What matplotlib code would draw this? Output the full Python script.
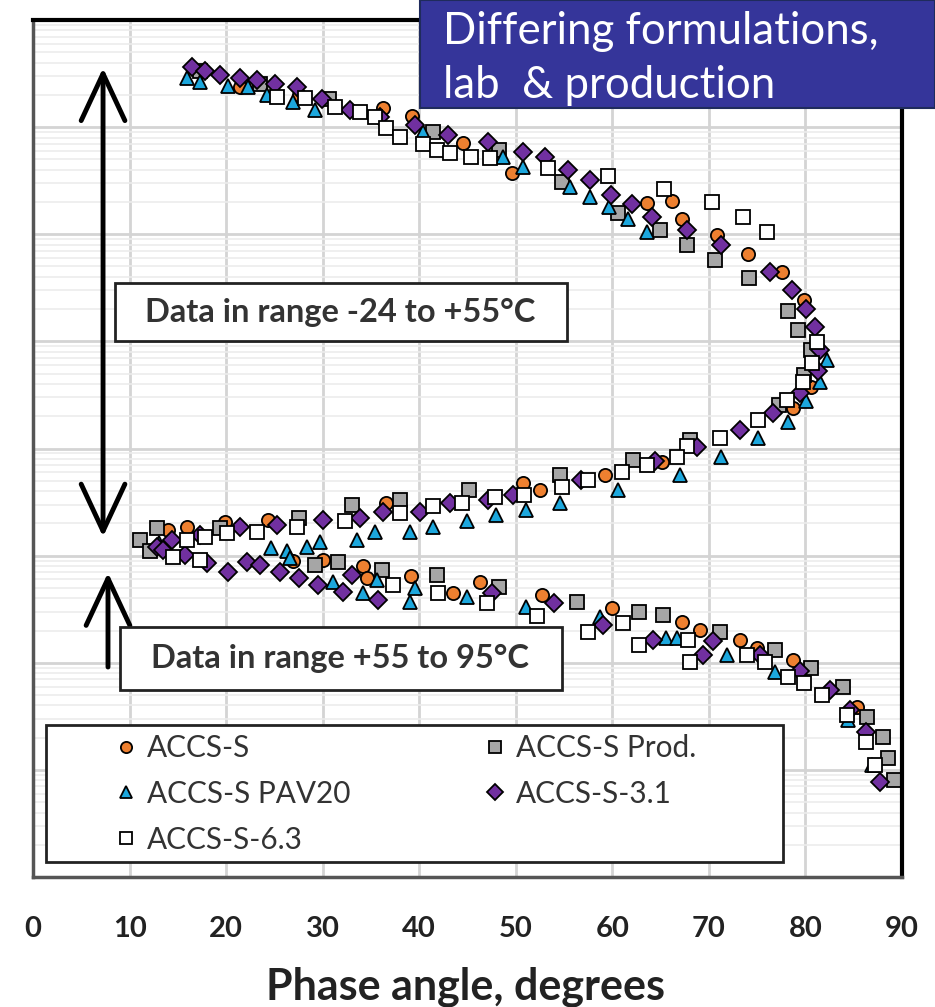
import numpy as np
import matplotlib.pyplot as plt
from matplotlib.patches import Rectangle
from matplotlib.lines import Line2D

plt.rcParams['font.family'] = ['Lato', 'DejaVu Sans']

# Black-space data: phase angle [deg] and log10 |G*|
# branch measured from -24 to +55 C
accs_s_phase = [21.4, 27.6, 36.2, 39.3, 44.5, 49.6, 63.6, 66.2, 67.2, 70.8, 74.0, 77.6,
                79.9, 80.6, 78.7, 65.1, 59.2, 52.5, 50.7, 36.6, 24.3, 19.9, 16.0, 14.0]
accs_s_logg = [8.37, 8.30, 8.18, 8.10, 7.85, 7.57, 7.29, 7.31, 7.14, 6.99, 6.82, 6.65,
               6.39, 5.57, 5.38, 4.87, 4.75, 4.61, 4.68, 4.49, 4.33, 4.31, 4.27, 4.24]
# branch measured from +55 to 95 C
accs_s_hot_phase = [26.9, 30.0, 34.2, 34.6, 39.2, 43.5, 46.3, 52.7, 60.0, 67.2, 69.1, 73.2,
                    75.0, 78.7, 85.3]
accs_s_hot_logg = [3.95, 3.96, 3.90, 3.79, 3.81, 3.65, 3.75, 3.63, 3.51, 3.38, 3.31, 3.21,
                   3.14, 3.03, 2.59]

prod_phase = [17.3, 23.5, 30.7, 41.4, 48.3, 54.8, 60.6, 64.9, 67.7, 70.6, 74.2, 78.2, 79.2,
              80.6, 79.9, 77.3, 68.0, 62.1, 54.6, 45.2, 38.0, 33.0, 27.6, 19.4, 12.8, 11.1]
prod_logg = [8.52, 8.40, 8.26, 7.95, 7.79, 7.49, 7.20, 7.04, 6.90, 6.76, 6.59, 6.28, 6.11,
             5.92, 5.69, 5.41, 5.08, 4.89, 4.75, 4.61, 4.52, 4.47, 4.35, 4.26, 4.26, 4.15]
prod_hot_phase = [12.1, 29.2, 31.6, 36.1, 41.8, 48.3, 56.3, 62.8, 65.2, 71.1, 76.8, 80.6,
                  83.9, 86.4, 88.0, 88.5, 89.2]
prod_hot_logg = [4.04, 3.91, 3.94, 3.87, 3.82, 3.71, 3.57, 3.47, 3.45, 3.29, 3.12, 2.95,
                 2.77, 2.49, 2.31, 2.11, 1.91]

pav20_phase = [15.9, 17.3, 20.2, 22.3, 24.2, 26.9, 29.2, 40.4, 48.7, 50.7, 55.6, 57.7,
               59.7, 61.6, 63.6, 82.2, 81.5, 80.1, 78.2, 75.1, 71.3, 67.0, 60.6, 54.6,
               51.1, 48.0, 44.9, 41.4, 39.0, 35.4, 33.6, 29.7, 28.4, 26.3, 24.7, 13.1]
pav20_logg = [8.46, 8.42, 8.38, 8.37, 8.30, 8.23, 8.16, 7.95, 7.72, 7.63, 7.44, 7.35,
              7.25, 7.14, 7.02, 5.83, 5.62, 5.44, 5.25, 5.10, 4.92, 4.75, 4.61, 4.49,
              4.43, 4.38, 4.32, 4.27, 4.22, 4.22, 4.15, 4.13, 4.08, 4.04, 4.07, 4.12]
pav20_hot_phase = [26.6, 31.1, 34.2, 35.6, 39.0, 39.6, 44.9, 51.1, 58.7, 65.6, 66.7, 71.9,
                   76.8, 84.4, 86.9]
pav20_hot_logg = [3.98, 3.75, 3.65, 3.77, 3.57, 3.70, 3.61, 3.52, 3.43, 3.23, 3.23, 3.07,
                  2.91, 2.47, 2.05]

s31_phase = [16.5, 17.8, 19.4, 21.4, 23.2, 25.1, 27.3, 29.9, 32.8, 35.9, 39.6, 43.0, 47.1,
             50.7, 53.0, 55.4, 57.7, 59.9, 62.0, 64.1, 67.7, 71.3, 76.3, 78.6, 80.1, 81.0,
             81.5, 81.3, 79.4, 76.6, 73.2, 68.8, 64.4, 56.8, 49.7, 47.1, 43.2, 40.1, 36.2,
             33.9, 30.0, 25.3, 21.4, 17.3, 14.4, 12.8]
s31_logg = [8.56, 8.52, 8.49, 8.46, 8.44, 8.40, 8.37, 8.26, 8.16, 8.09, 8.02, 7.93, 7.86,
            7.77, 7.72, 7.60, 7.51, 7.37, 7.28, 7.16, 7.04, 6.90, 6.65, 6.48, 6.30, 6.13,
            5.92, 5.72, 5.52, 5.33, 5.17, 5.01, 4.88, 4.71, 4.57, 4.52, 4.49, 4.41, 4.41,
            4.35, 4.33, 4.29, 4.27, 4.19, 4.15, 4.08]
s31_hot_phase = [13.5, 15.7, 18.0, 20.2, 22.2, 23.5, 25.6, 27.6, 29.5, 32.1, 33.0, 35.7,
                 47.5, 54.0, 59.0, 64.2, 69.4, 70.4, 75.3, 79.4, 82.5, 84.6, 86.3, 87.7]
s31_hot_logg = [4.05, 4.01, 3.93, 3.85, 3.94, 3.91, 3.85, 3.79, 3.73, 3.66, 3.82, 3.59,
                3.65, 3.56, 3.35, 3.21, 3.07, 3.20, 3.07, 2.92, 2.75, 2.56, 2.35, 1.89]

s63_phase = [25.3, 28.2, 31.3, 33.9, 35.4, 36.6, 38.0, 40.4, 41.8, 43.2, 45.4, 47.3, 53.3,
             59.5, 65.4, 70.3, 73.5, 76.0, 81.2, 80.7, 79.7, 78.1, 75.1, 71.1, 67.7, 66.7,
             63.6, 61.0, 57.5, 54.8, 50.9, 47.8, 44.4, 41.4, 38.0, 32.3, 27.3, 23.2, 20.1,
             17.8, 15.9]
s63_logg = [8.28, 8.27, 8.19, 8.14, 8.09, 7.99, 7.91, 7.84, 7.79, 7.76, 7.72, 7.71, 7.62,
            7.54, 7.42, 7.30, 7.16, 7.02, 5.99, 5.80, 5.62, 5.45, 5.27, 5.10, 5.02, 4.92,
            4.85, 4.78, 4.71, 4.64, 4.57, 4.55, 4.49, 4.46, 4.40, 4.32, 4.27, 4.22, 4.21,
            4.17, 4.15]
s63_hot_phase = [14.5, 17.3, 37.3, 41.9, 47.0, 52.2, 57.5, 61.1, 62.8, 67.8, 68.0, 73.9,
                 75.8, 78.2, 79.9, 81.7, 84.3, 86.3, 87.2]
s63_hot_logg = [3.99, 3.96, 3.73, 3.65, 3.56, 3.44, 3.29, 3.37, 3.17, 3.21, 3.01, 3.07,
                3.01, 2.87, 2.81, 2.70, 2.51, 2.26, 2.05]

x_ticks = [0, 10, 20, 30, 40, 50, 60, 70, 80, 90]

# drawing order follows the original workbook (white squares end up on top)
series = [
    ('ACCS-S', accs_s_phase + accs_s_hot_phase, accs_s_logg + accs_s_hot_logg, 'o', '#EE8030', 9.5),
    ('ACCS-S Prod.', prod_phase + prod_hot_phase, prod_logg + prod_hot_logg, 's', '#A6A6A6', 10.5),
    ('ACCS-S PAV20', pav20_phase + pav20_hot_phase, pav20_logg + pav20_hot_logg, '^', '#1CA7DD', 10),
    ('ACCS-S-3.1', s31_phase + s31_hot_phase, s31_logg + s31_hot_logg, 'D', '#7130A0', 9.5),
    ('ACCS-S-6.3', s63_phase + s63_hot_phase, s63_logg + s63_hot_logg, 's', '#FFFFFF', 10.5),
]

fig = plt.figure(figsize=(9.35, 10.07), dpi=100)
ax = fig.add_axes([33/935, 130/1007, 869/935, 857/1007])

handles = {}
for name, ph, lg, mk, col, ms in series:
    line, = ax.plot(ph, 10**np.array(lg), linestyle='none', marker=mk, ms=ms,
                    markerfacecolor=col, markeredgecolor='black', markeredgewidth=1.3,
                    label=name)
    handles[name] = line

ax.set_xlim(0, 90)
ax.set_ylim(1e1, 1e9)
ax.set_yscale('log')
ax.set_xticks(x_ticks)
ax.set_xticklabels([str(t) for t in x_ticks])
ax.tick_params(axis='both', which='both', length=0)
ax.tick_params(axis='x', pad=28, labelsize=21, labelcolor='#222222')
for lbl in ax.get_xticklabels():
    lbl.set_fontweight('bold')
ax.yaxis.set_ticklabels([], minor=False)
ax.yaxis.set_ticklabels([], minor=True)

ax.grid(True, which='major', color='#d4d4d4', lw=2.0)
ax.grid(True, which='minor', axis='y', color='#ececec', lw=1.2)
ax.set_axisbelow(True)

for side in ['top', 'right']:
    ax.spines[side].set_linewidth(3)
    ax.spines[side].set_color('black')
for side in ['left', 'bottom']:
    ax.spines[side].set_linewidth(2.5)
    ax.spines[side].set_color('#555555')

ax.set_xlabel('Phase angle, degrees', fontsize=31, fontweight='bold', color='#222222')
ax.xaxis.set_label_coords(0.498, -0.105)

# temperature-range boxes
ax.add_patch(Rectangle((0.0944, 0.6254), 0.5201, 0.0677, transform=ax.transAxes,
                       facecolor='white', edgecolor='#222222', lw=2, zorder=5))
ax.text(0.3533, 0.6593, 'Data in range -24 to +55°C', transform=ax.transAxes,
        ha='center', va='center', fontsize=23.5, fontweight='bold', color='#333333', zorder=6)
ax.add_patch(Rectangle((0.1001, 0.2182), 0.5086, 0.0735, transform=ax.transAxes,
                       facecolor='white', edgecolor='#222222', lw=2, zorder=5))
ax.text(0.3533, 0.2555, 'Data in range +55 to 95°C', transform=ax.transAxes,
        ha='center', va='center', fontsize=23.5, fontweight='bold', color='#333333', zorder=6)

# arrows
ax.annotate('', xy=(0.0806, 0.944), xytext=(0.0806, 0.397), xycoords='axes fraction',
            arrowprops=dict(arrowstyle='<->, head_length=0.45, head_width=0.21',
                            mutation_scale=75, lw=3.5, color='black', shrinkA=0, shrinkB=0))
ax.annotate('', xy=(0.0863, 0.355), xytext=(0.0863, 0.245), xycoords='axes fraction',
            arrowprops=dict(arrowstyle='->, head_length=0.45, head_width=0.21',
                            mutation_scale=75, lw=3.5, color='black', shrinkA=0, shrinkB=0))

# legend box
ax.add_patch(Rectangle((0.0150, 0.0175), 0.8481, 0.1599, transform=ax.transAxes,
                       facecolor='white', edgecolor='#222222', lw=2, zorder=5))
order = ['ACCS-S', 'ACCS-S PAV20', 'ACCS-S-6.3', 'ACCS-S Prod.', 'ACCS-S-3.1']
leg_handles = []
for name in order:
    h = handles[name]
    leg_handles.append(Line2D([], [], linestyle='none', marker=h.get_marker(),
                              ms=h.get_markersize() * 0.85, markerfacecolor=h.get_markerfacecolor(),
                              markeredgecolor='black', markeredgewidth=1.3))
leg = ax.legend(leg_handles, order, ncol=2, loc='upper left',
                bbox_to_anchor=((113 - 33) / 869, (877 - 734) / 857),
                frameon=False, fontsize=21.4, handlelength=0.9, handletextpad=0.25,
                columnspacing=4.4, labelspacing=0.6, borderpad=0, borderaxespad=0)
leg.set_zorder(7)
for t in leg.get_texts():
    t.set_color('#333333')

# title banner
fig.patches.append(Rectangle((420/935, 1 - 108/1007), 1 - 420/935, 108/1007,
                             transform=fig.transFigure, facecolor='#35359A',
                             edgecolor='#1F2B5C', lw=1.5, zorder=10))
fig.text(443/935, 1 - 31/1007, 'Differing formulations,', color='white', fontsize=31.5,
         ha='left', va='center', zorder=11)
fig.text(443/935, 1 - 85/1007, 'lab  & production', color='white', fontsize=31.5,
         ha='left', va='center', zorder=11)

fig.savefig('out.png', dpi=100)
